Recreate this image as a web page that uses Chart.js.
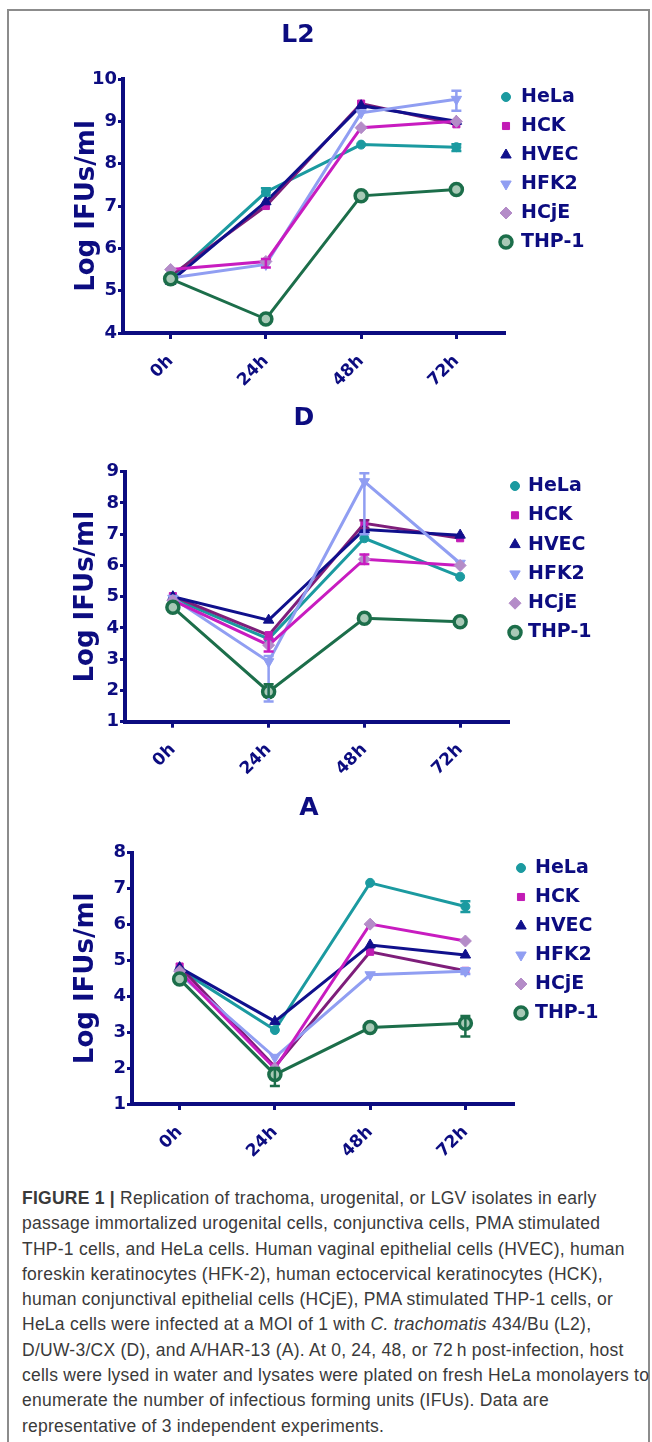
<!DOCTYPE html>
<html lang="en">
<head>
    <meta charset="UTF-8">
    <title>Figure 1 - IFU replication</title>
    <style>
        body {
            margin: 0;
            background: #fff;
        }
        #page {
            position: relative;
            width: 652px;
            height: 1442px;
            overflow: hidden;
        }
        #frame {
            position: absolute;
            left: 7px;
            top: 9px;
            width: 639px;
            height: 1440px;
            border-left: 2px solid #8c8c8c;
            border-top: 2px solid #8c8c8c;
            border-right: 2px solid #8c8c8c;
        }
        canvas {
            position: absolute;
            left: 0;
        }
        #caption {
            position: absolute;
            left: 22px;
            top: 1186px;
            font-family: "Liberation Sans", Arial, sans-serif;
            font-size: 17.5px;
            letter-spacing: 0.25px;
            line-height: 25.3px;
            color: #3a3a3a;
            white-space: nowrap;
        }
    </style>
</head>
<body>
<div id="page">
    <div id="frame"></div>
    <canvas id="chartL2" width="596" height="395" style="top:0px"></canvas>
    <canvas id="chartD" width="608" height="395" style="top:395px"></canvas>
    <canvas id="chartA" width="618" height="375" style="top:790px"></canvas>
    <div id="caption">
        <b>FIGURE 1 |</b> Replication of trachoma, urogenital, or LGV isolates in early<br>
        passage immortalized urogenital cells, conjunctiva cells, PMA stimulated<br>
        THP-1 cells, and HeLa cells. Human vaginal epithelial cells (HVEC), human<br>
        foreskin keratinocytes (HFK-2), human ectocervical keratinocytes (HCK),<br>
        human conjunctival epithelial cells (HCjE), PMA stimulated THP-1 cells, or<br>
        HeLa cells were infected at a MOI of 1 with <i>C. trachomatis</i> 434/Bu (L2),<br>
        D/UW-3/CX (D), and A/HAR-13 (A). At 0, 24, 48, or 72&#8201;h post-infection, host<br>
        cells were lysed in water and lysates were plated on fresh HeLa monolayers to<br>
        enumerate the number of infectious forming units (IFUs). Data are<br>
        representative of 3 independent experiments.
    </div>
</div>

<script src="https://cdn.jsdelivr.net/npm/chart.js"></script>
<script>
    const timeLabels = ['0h', '24h', '48h', '72h'];
    const cellLines = ['HeLa', 'HCK', 'HVEC', 'HFK2', 'HCjE', 'THP-1'];

    // L2 (log IFUs/ml)
    const l2HeLa = [5.28, 7.33, 8.45, 8.39];
    const l2HCK = [5.35, 7.0, 9.42, 8.93];
    const l2HVEC = [5.22, 7.1, 9.37, 9.0];
    const l2HFK2 = [5.3, 5.62, 9.2, 9.52];
    const l2HCjE = [5.5, 5.69, 8.85, 9.0];
    const l2THP1 = [5.28, 4.33, 7.24, 7.39];
    // error bars [low, high], null = hidden
    const l2HeLaErr = [null, [7.25, 7.42], null, [8.3, 8.46]];
    const l2HFK2Err = [null, null, null, [9.25, 9.72]];
    const l2HCjEErr = [null, [5.55, 5.75], null, null];

    // D
    const dHeLa = [4.95, 3.65, 6.87, 5.64];
    const dHCK = [5.02, 3.77, 7.35, 6.87];
    const dHVEC = [5.0, 4.25, 7.15, 6.97];
    const dHFK2 = [4.95, 2.92, 8.68, 6.07];
    const dHCjE = [4.88, 3.45, 6.2, 6.0];
    const dTHP1 = [4.66, 1.96, 4.31, 4.2];
    const dHCKErr = [null, null, [7.2, 7.45], null];
    const dHFK2Err = [null, [1.65, 3.1], [7.0, 8.95], null];
    const dHCjEErr = [null, [3.25, 3.65], [6.05, 6.35], null];
    const dTHP1Err = [null, [1.8, 2.2], null, null];

    // A
    const aHeLa = [4.75, 3.06, 7.16, 6.5];
    const aHCK = [4.83, 2.04, 5.24, 4.71];
    const aHVEC = [4.8, 3.3, 5.43, 5.15];
    const aHFK2 = [4.62, 2.3, 4.6, 4.7];
    const aHCjE = [4.7, 1.99, 6.01, 5.54];
    const aTHP1 = [4.48, 1.82, 3.13, 3.25];
    const aHeLaErr = [null, null, null, [6.35, 6.65]];
    const aHFK2Err = [null, null, null, [4.62, 4.78]];
    const aTHP1Err = [null, [1.5, 2.0], null, [2.88, 3.45]];

    const navy = '#0c0c80';
    const font = "'DejaVu Sans', sans-serif";

    // line colour, marker fill, marker style for each cell line
    const looks = [
        { line: '#1b9aa0', fill: '#1b9aa0', border: '#1b9aa0', style: 'circle', r: 4.5, bw: 1, rot: 0 },
        { line: '#7e1e7a', fill: '#c21bb5', border: '#c21bb5', style: 'rect', r: 5, bw: 1, rot: 0 },
        { line: '#10108c', fill: '#10108c', border: '#10108c', style: 'triangle', r: 6, bw: 1, rot: 0 },
        { line: '#909ef2', fill: '#909ef2', border: '#909ef2', style: 'triangle', r: 6, bw: 1, rot: 180 },
        { line: '#c81cc0', fill: '#b48cc8', border: '#b48cc8', style: 'rectRot', r: 6, bw: 1, rot: 0 },
        { line: '#1c6e4a', fill: '#a8c9b6', border: '#1c6e4a', style: 'circle', r: 6, bw: 3.5, rot: 0 }
    ];

    const errorBars = {
        id: 'errorBars',
        afterDatasetsDraw(chart) {
            const ctx = chart.ctx;
            const yScale = chart.scales.y;
            chart.data.datasets.forEach((ds, di) => {
                if (!ds.errors) return;
                const meta = chart.getDatasetMeta(di);
                ds.errors.forEach((e, i) => {
                    if (!e) return;
                    const x = meta.data[i].x;
                    const y1 = yScale.getPixelForValue(e[0]);
                    const y2 = yScale.getPixelForValue(e[1]);
                    ctx.save();
                    ctx.strokeStyle = ds.borderColor;
                    ctx.lineWidth = 2.5;
                    ctx.beginPath();
                    ctx.moveTo(x, y1); ctx.lineTo(x, y2);
                    ctx.moveTo(x - 5, y1); ctx.lineTo(x + 5, y1);
                    ctx.moveTo(x - 5, y2); ctx.lineTo(x + 5, y2);
                    ctx.stroke();
                    ctx.restore();
                });
            });
        }
    };

    // legend drawn to the right of the plot, GraphPad style
    const sideLegend = {
        id: 'sideLegend',
        afterDraw(chart, args, opts) {
            const ctx = chart.ctx;
            ctx.save();
            ctx.font = 'bold 19px ' + font;
            ctx.textBaseline = 'middle';
            ctx.textAlign = 'left';
            chart.data.datasets.forEach((ds, i) => {
                const y = opts.top + i * opts.step;
                ctx.fillStyle = ds.pointBackgroundColor;
                ctx.strokeStyle = ds.pointBorderColor;
                ctx.lineWidth = ds.pointBorderWidth;
                Chart.helpers.drawPoint(ctx, {
                    pointStyle: ds.pointStyle,
                    rotation: ds.pointRotation,
                    radius: ds.pointRadius,
                    borderWidth: ds.pointBorderWidth
                }, opts.markerX, y);
                ctx.fillStyle = navy;
                ctx.fillText(ds.label, opts.textX, y);
            });
            ctx.restore();
        }
    };

    function makePanel(id, title, series, errors, yMin, yMax, g) {
        const datasets = series.map((vals, i) => ({
            label: cellLines[i],
            data: vals,
            errors: errors[i],
            borderColor: looks[i].line,
            borderWidth: 3,
            pointStyle: looks[i].style,
            pointRotation: looks[i].rot,
            pointRadius: looks[i].r,
            pointBackgroundColor: looks[i].fill,
            pointBorderColor: looks[i].border,
            pointBorderWidth: looks[i].bw,
            tension: 0,
            clip: false,
            order: 6 - i
        }));

        new Chart(document.getElementById(id), {
            type: 'line',
            data: { labels: timeLabels, datasets: datasets },
            plugins: [errorBars, sideLegend],
            options: {
                responsive: false,
                animation: false,
                layout: { padding: 0 },
                plugins: {
                    legend: { display: false },
                    tooltip: { enabled: false },
                    title: {
                        display: true,
                        text: title,
                        color: navy,
                        font: { family: font, size: 25, weight: 'bold' },
                        padding: { top: g.titleTop, bottom: g.titleBottom }
                    },
                    sideLegend: g.legend
                },
                scales: {
                    x: {
                        type: 'category',
                        offset: true,
                        afterFit: s => { s.height = g.xHeight; },
                        grid: {
                            offset: false,
                            drawOnChartArea: false,
                            drawTicks: true,
                            tickLength: 6,
                            color: navy,
                            lineWidth: 3
                        },
                        border: { display: true, color: navy, width: 4 },
                        ticks: {
                            color: navy,
                            font: { family: font, size: 17, weight: 'bold' },
                            minRotation: 45,
                            maxRotation: 45,
                            padding: 12
                        }
                    },
                    y: {
                        min: yMin,
                        max: yMax,
                        afterFit: s => { s.width = g.yWidth; },
                        grid: {
                            drawOnChartArea: false,
                            drawTicks: true,
                            tickLength: 5,
                            color: navy,
                            lineWidth: 3
                        },
                        border: { display: true, color: navy, width: 4 },
                        ticks: {
                            stepSize: 1,
                            color: navy,
                            padding: 1,
                            font: { family: font, size: 18, weight: 'bold' }
                        },
                        title: {
                            display: true,
                            text: 'Log IFUs/ml',
                            color: navy,
                            font: { family: font, size: 26, weight: 'bold' },
                            padding: { top: g.yTitlePad, bottom: 0 }
                        }
                    },
                    // empty right-hand scale: keeps room for the legend
                    side: {
                        type: 'linear',
                        position: 'right',
                        display: true,
                        afterFit: s => { s.width = g.legendRoom; },
                        grid: { display: false },
                        border: { display: false },
                        ticks: { display: false }
                    }
                }
            }
        });
    }

    makePanel('chartL2', 'L2',
        [l2HeLa, l2HCK, l2HVEC, l2HFK2, l2HCjE, l2THP1],
        [l2HeLaErr, null, null, l2HFK2Err, l2HCjEErr, null],
        4, 10,
        { legendRoom: 92, titleTop: 20, titleBottom: 29, xHeight: 62, yWidth: 123, yTitlePad: 72,
          legend: { markerX: 506, textX: 521, top: 97, step: 29 } });

    makePanel('chartD', 'D',
        [dHeLa, dHCK, dHVEC, dHFK2, dHCjE, dTHP1],
        [null, dHCKErr, null, dHFK2Err, dHCjEErr, dTHP1Err],
        1, 9,
        { legendRoom: 100, titleTop: 8, titleBottom: 38.7, xHeight: 68.3, yWidth: 125, yTitlePad: 71,
          legend: { markerX: 515, textX: 528, top: 91, step: 29.3 } });

    makePanel('chartA', 'A',
        [aHeLa, aHCK, aHVEC, aHFK2, aHCjE, aTHP1],
        [aHeLaErr, null, null, aHFK2Err, null, aTHP1Err],
        1, 8,
        { legendRoom: 105, titleTop: 3, titleBottom: 29.7, xHeight: 61, yWidth: 132, yTitlePad: 71,
          legend: { markerX: 521, textX: 535, top: 78, step: 29 } });
</script>
</body>
</html>
